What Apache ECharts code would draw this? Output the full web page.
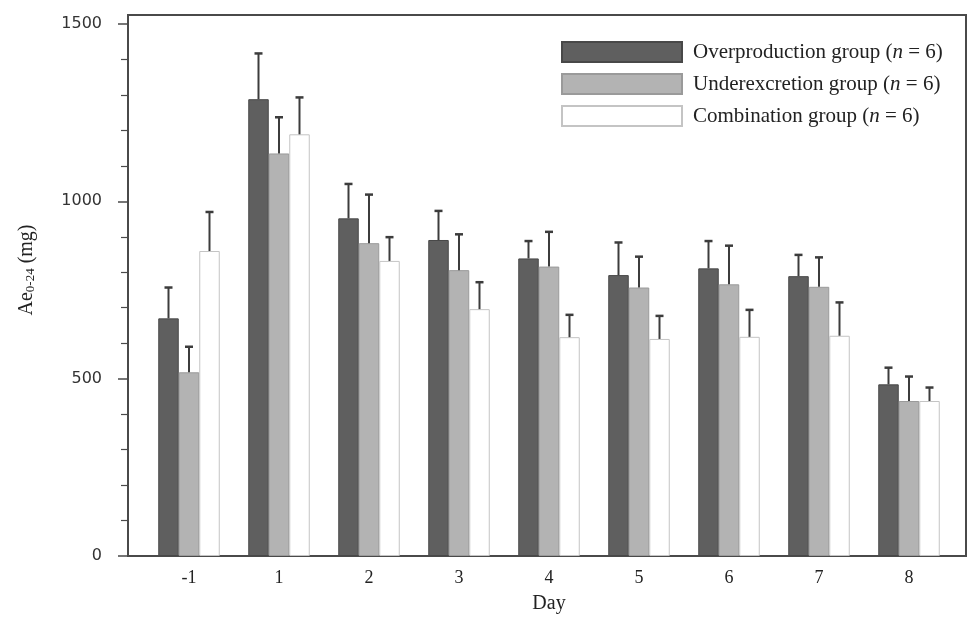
<!DOCTYPE html>
<html>
<head>
<meta charset="utf-8">
<script src="https://cdn.jsdelivr.net/npm/echarts@6/dist/echarts.min.js"></script>
<style>
  html, body { margin: 0; padding: 0; background: #fff; }
  #chart { width: 970px; height: 637px; }
</style>
</head>
<body>
<div id="chart"></div>
<script>
// Ae0-24 per day, mean and upper error (mean + SD)
const days = ['-1', '1', '2', '3', '4', '5', '6', '7', '8'];
const groupNames = ['Overproduction group', 'Underexcretion group', 'Combination group'];

const overMean = [670, 1288, 952, 891, 839, 792, 811, 789, 484];
const overTop = [757, 1417, 1049, 973, 888, 884, 888, 849, 531];
const underMean = [518, 1135, 882, 806, 816, 757, 766, 759, 437];
const underTop = [590, 1237, 1019, 907, 914, 844, 875, 842, 506];
const combMean = [860, 1189, 832, 696, 617, 612, 618, 621, 437];
const combTop = [970, 1293, 899, 772, 680, 677, 694, 715, 475];

const yTicks = {min: 0, max: 1500, interval: 500};

const means = [overMean, underMean, combMean];
const tops = [overTop, underTop, combTop];
const fills = ['#5f5f5f', '#b3b3b3', '#ffffff'];
const borders = ['#484848', '#9a9a9a', '#c4c4c4'];
const barW = 20.5;
const serif = '"Liberation Serif", "Times New Roman", serif';

const chart = echarts.init(document.getElementById('chart'), null, {renderer: 'canvas'});

const barSeries = groupNames.map((name, i) => ({
    type: 'bar',
    name,
    data: means[i],
    barWidth: barW,
    barGap: '0%',
    itemStyle: {color: fills[i], borderColor: borders[i], borderWidth: 1},
    emphasis: {disabled: true},
    animation: false,
    z: 2,
}));

const errSeries = groupNames.map((name, i) => ({
    type: 'custom',
    name: name + ' SD',
    data: days.map((d, j) => [j, tops[i][j], means[i][j]]),
    encode: {x: 0, y: [1, 2]},
    animation: false,
    silent: true,
    z: 5,
    renderItem(params, api) {
        const top = api.coord([api.value(0), api.value(1)]);
        const base = api.coord([api.value(0), api.value(2)]);
        const x = top[0] + (i - 1) * barW;
        const style = {stroke: '#3c3c3c', lineWidth: 2};
        return {
            type: 'group',
            children: [
                {type: 'line', shape: {x1: x, y1: base[1], x2: x, y2: top[1]}, style},
                {type: 'line', shape: {x1: x - 4, y1: top[1], x2: x + 4, y2: top[1]}, style: {stroke: '#3c3c3c', lineWidth: 2.5}},
            ],
        };
    },
}));

chart.setOption({
    backgroundColor: '#fff',
    animation: false,
    grid: [
        {left: 144, right: 16, top: 24, bottom: 81},
        // plot frame
        {left: 128, right: 4, top: 15, bottom: 81, show: true, borderColor: '#4a4a4a', borderWidth: 2, backgroundColor: 'transparent'},
    ],
    legend: {
        data: groupNames,
        orient: 'vertical',
        left: 556,
        top: 36,
        itemWidth: 120,
        itemHeight: 20,
        itemGap: 10,
        icon: 'rect',
        selectedMode: false,
        formatter: name => `{t|${name} (}{i|n}{t| = 6)}`,
        textStyle: {
            padding: [0, 0, 0, 6],
            rich: {
                t: {fontFamily: serif, fontSize: 21, color: '#222', lineHeight: 20},
                i: {fontFamily: serif, fontSize: 21, fontStyle: 'italic', color: '#222', lineHeight: 20},
            },
        },
    },
    xAxis: [{
        type: 'category',
        data: days,
        gridIndex: 0,
        axisLine: {show: false},
        axisTick: {show: false},
        axisLabel: {fontFamily: serif, fontSize: 18, color: '#222', margin: 13},
        name: 'Day',
        nameLocation: 'middle',
        nameGap: 38,
        nameTextStyle: {fontFamily: serif, fontSize: 20, color: '#222'},
    }, {
        type: 'value', gridIndex: 1, show: false,
    }],
    yAxis: [{
        type: 'value',
        gridIndex: 0,
        min: yTicks.min,
        max: yTicks.max,
        interval: yTicks.interval,
        offset: 16,
        splitLine: {show: false},
        axisLine: {show: false},
        axisTick: {show: true, length: 10, lineStyle: {color: '#4a4a4a', width: 1.5}},
        minorTick: {show: true, splitNumber: 5, length: 7, lineStyle: {color: '#4a4a4a', width: 1.2}},
        axisLabel: {
            fontFamily: '"DejaVu Sans", sans-serif', fontSize: 16, color: '#333', margin: 26,
            formatter: v => String(v),
        },
        name: '{a|Ae}{s|0-24}{a| (mg)}',
        nameLocation: 'middle',
        nameRotate: 90,
        nameGap: 91,
        nameTextStyle: {
            padding: [0, 0, 0, 40],
            rich: {
                a: {fontFamily: serif, fontSize: 20, color: '#222'},
                s: {fontFamily: serif, fontSize: 13, color: '#222', padding: [8, 0, 0, 0]},
            },
        },
    }, {
        type: 'value', gridIndex: 1, show: false,
    }],
    series: [...barSeries, ...errSeries],
});
</script>
</body>
</html>
